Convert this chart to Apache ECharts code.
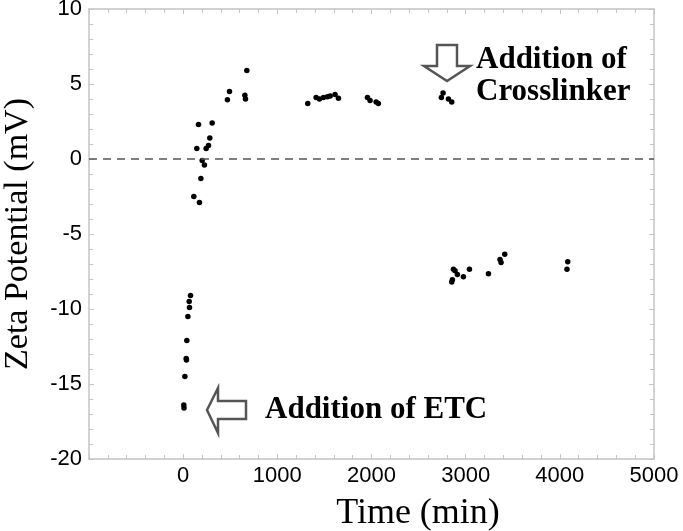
<!DOCTYPE html>
<html>
<head>
<meta charset="utf-8">
<script src="https://cdn.jsdelivr.net/npm/echarts@6/dist/echarts.min.js"></script>
<style>
  html, body { margin: 0; padding: 0; background: #fff; }
  #zetaChart { width: 683px; height: 531px; }
</style>
</head>
<body>
<div id="zetaChart"></div>
<script>
// values
const timeMin = [
  7, 9, 18, 32, 35, 39, 50, 67, 64, 78,
  113, 173, 188, 202, 226, 145, 163, 244, 269, 283, 308,
  470, 492, 655, 662, 676,
  1323, 1412, 1447, 1490, 1532, 1561, 1613, 1649,
  1957, 1985, 2049, 2073,
  2742, 2760, 2817, 2852,
  2852, 2859, 2870, 2887, 2912, 2976, 3040, 3242, 3365, 3376, 3415,
  4076, 4084
];
const zetaMv = [
  -16.4, -16.6, -14.5, -13.3, -13.4, -12.1, -10.5, -9.9, -9.5, -9.1,
  -2.5, -2.9, -1.3, -0.1, -0.4, 0.7, 2.3, 0.7, 0.9, 1.4, 2.4,
  3.95, 4.5, 4.25, 4.0, 5.9,
  3.7, 4.1, 4.0, 4.1, 4.15, 4.2, 4.3, 4.05,
  4.1, 3.9, 3.8, 3.7,
  4.1, 4.4, 4.0, 3.8,
  -8.2, -8.05, -7.35, -7.45, -7.7, -7.85, -7.35, -7.65, -6.7, -6.9, -6.35,
  -7.35, -6.85
];
const xTicks = { min: -1000, max: 5000, step: 1000 };
const yTicks = { min: -20, max: 10, step: 5 };

const points = timeMin.map((t, i) => [t, zetaMv[i]]);

const frameColor = "#c4c4c4";
const tickFont = "Liberation Sans";
const nameFont = "Liberation Serif";

function frameAxis(extra) {
  return Object.assign({
    type: "value",
    axisLine: { show: true, onZero: false, lineStyle: { color: frameColor, width: 1.5 } },
    axisTick: { show: true, inside: true, length: 5, lineStyle: { color: frameColor } },
    minorTick: { show: true, splitNumber: 5, length: 4, lineStyle: { color: frameColor } },
    splitLine: { show: false },
  }, extra);
}

const options = {
  backgroundColor: "#fff",
  animation: false,
  grid: { left: 89, right: 29, top: 9, bottom: 72, outerBoundsMode: "none" },
  xAxis: [
    frameAxis({
      min: xTicks.min, max: xTicks.max, interval: xTicks.step,
      position: "bottom",
      name: "Time (min)",
      nameLocation: "middle",
      nameGap: 37,
      nameTextStyle: { fontFamily: nameFont, fontSize: 36, color: "#000", padding: [0, 0, 0, 93] },
      axisLabel: {
        fontFamily: tickFont, fontSize: 22, color: "#000", margin: 6,
        formatter: (v) => (v === xTicks.min ? "" : String(v)),
      },
    }),
    frameAxis({
      min: xTicks.min, max: xTicks.max, interval: xTicks.step,
      position: "top",
      axisLabel: { show: false },
    }),
  ],
  yAxis: [
    frameAxis({
      min: yTicks.min, max: yTicks.max, interval: yTicks.step,
      position: "left",
      name: "Zeta Potential (mV)",
      nameLocation: "middle",
      nameGap: 54,
      nameTextStyle: { fontFamily: nameFont, fontSize: 34, color: "#000" },
      axisLabel: { fontFamily: tickFont, fontSize: 22, color: "#000", margin: 7 },
    }),
    frameAxis({
      min: yTicks.min, max: yTicks.max, interval: yTicks.step,
      position: "right",
      axisLabel: { show: false },
    }),
  ],
  series: [
    {
      type: "scatter",
      data: points,
      symbol: "circle",
      symbolSize: 5.5,
      itemStyle: { color: "#000", opacity: 1 },
      markLine: {
        silent: true,
        symbol: "none",
        label: { show: false },
        lineStyle: { color: "#555", type: [8, 6], width: 1.5 },
        data: [{ yAxis: 0 }],
      },
    },
  ],
  graphic: [
    // down arrow above the crosslinker group
    {
      type: "polygon",
      shape: {
        points: [[437, 45], [457, 45], [457, 66], [470, 66], [447, 81], [424, 66], [437, 66]],
      },
      style: { fill: "#fff", stroke: "#555", lineWidth: 2.5 },
    },
    {
      type: "text",
      left: 476, top: 44,
      style: {
        text: "Addition of\nCrosslinker",
        fontFamily: nameFont, fontWeight: "bold", fontSize: 31,
        lineHeight: 32, fill: "#000",
      },
    },
    // left arrow pointing at the first points
    {
      type: "polygon",
      shape: {
        points: [[207, 410], [218, 388], [218, 401], [246, 401], [246, 419], [218, 419], [218, 433]],
      },
      style: { fill: "#fff", stroke: "#555", lineWidth: 2.5 },
    },
    {
      type: "text",
      left: 265, top: 394,
      style: {
        text: "Addition of ETC",
        fontFamily: nameFont, fontWeight: "bold", fontSize: 31, fill: "#000",
      },
    },
  ],
};

let zetaChart = echarts.init(document.getElementById("zetaChart"));
zetaChart.setOption(options);
</script>
</body>
</html>
